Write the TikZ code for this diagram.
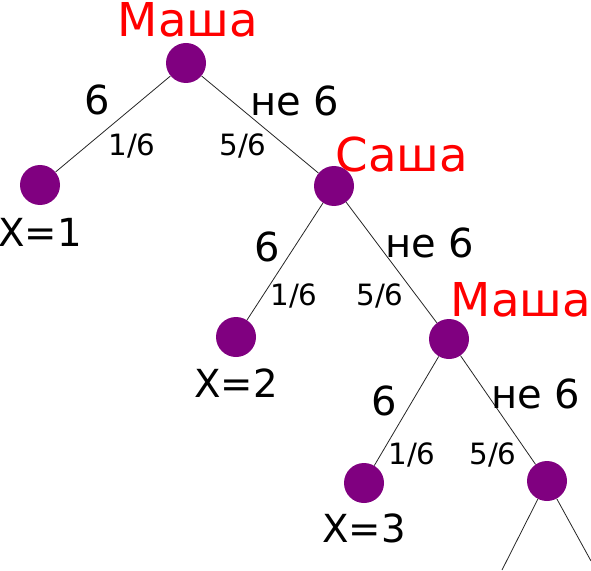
\documentclass[tikz,border=0pt]{standalone}
\usepackage{fontspec}
\setmainfont{DejaVu Sans}
\usepackage{xcolor}
\usetikzlibrary{positioning}
\definecolor{mvpurple}{RGB}{128, 0, 128}
\definecolor{mvred}{RGB}{255, 0, 0}
\tikzset{
    dot/.style={circle, fill=mvpurple, inner sep=0pt, minimum size=30pt},
    who/.style={text=mvred, font=\fontsize{35}{37}\selectfont, inner sep=0pt},
    outcome/.style={font=\fontsize{30}{32}\selectfont, inner sep=0pt},
    prob/.style={font=\fontsize{22}{24}\selectfont, inner sep=0pt},
    xval/.style={font=\fontsize{29}{31}\selectfont, inner sep=0pt},
    branch/.style={draw=black!85, line width=0.6pt}
}
\begin{document}
\begin{tikzpicture}[x=0.75pt, y=-0.75pt]
    \useasboundingbox (0,0) rectangle (591,570);

    % The tree nodes
    \node[dot] (m1) at (186,63) {};
    \node[dot] (x1) at (40,185) {};
    \node[dot] (s1) at (334,186) {};
    \node[dot] (x2) at (236,337) {};
    \node[dot] (m2) at (449,339) {};
    \node[dot] (x3) at (364,483) {};
    \node[dot] (r1) at (547,481) {};
    \coordinate (e1) at (502,570);
    \coordinate (e2) at (591,561);

    % Branches
    \draw[branch] (m1) -- (x1);
    \draw[branch] (m1) -- (s1);
    \draw[branch] (s1) -- (x2);
    \draw[branch] (s1) -- (m2);
    \draw[branch] (m2) -- (x3);
    \draw[branch] (m2) -- (r1);
    \draw[branch] (r1) -- (e1);
    \draw[branch] (r1) -- (e2);

    % Who throws
    \node[who] (w1) at (188,20) {Маша};
    \node[who] (w2) at (402,155) {Саша};
    \node[who] (w3) at (521,300) {Маша};

    % Outcomes and probabilities
    \node[outcome] (a1) at (97,100) {6};
    \node[outcome] (b1) at (295,101) {не 6};
    \node[prob] (p1) at (132,146) {1/6};
    \node[prob] (q1) at (243,146) {5/6};

    \node[outcome] (a2) at (267,247) {6};
    \node[outcome] (b2) at (430,243) {не 6};
    \node[prob] (p2) at (294,296) {1/6};
    \node[prob] (q2) at (380,296) {5/6};

    \node[outcome] (a3) at (384,401) {6};
    \node[outcome] (b3) at (536,394) {не 6};
    \node[prob] (p3) at (412,455) {1/6};
    \node[prob] (q3) at (493,455) {5/6};

    % Values of X
    \node[xval] (v1) at (40,232) {X=1};
    \node[xval] (v2) at (236,383) {X=2};
    \node[xval] (v3) at (364,528) {X=3};
\end{tikzpicture}
\end{document}
